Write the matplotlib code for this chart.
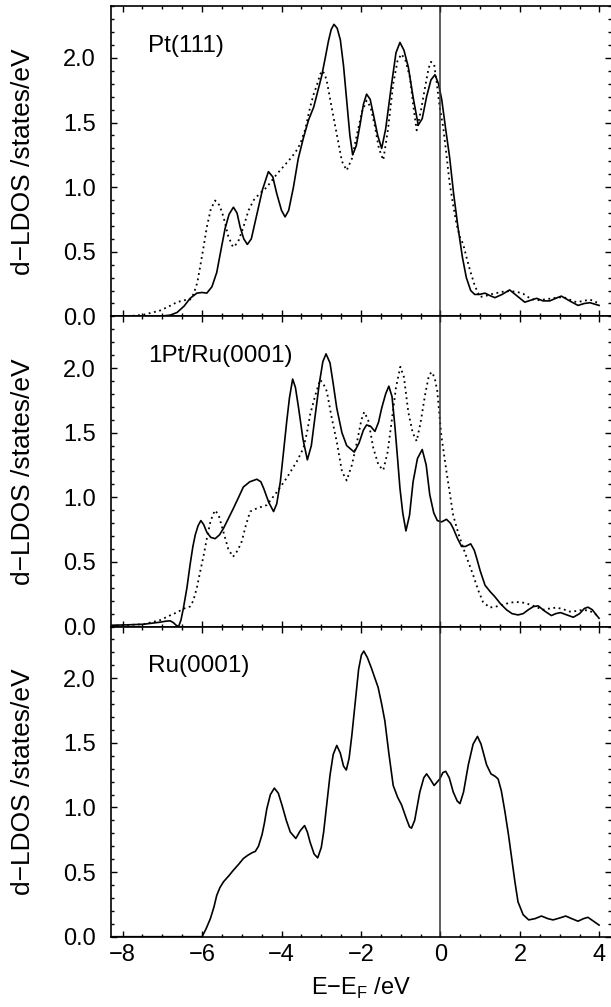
import numpy as np
import matplotlib
matplotlib.use('Agg')
import matplotlib.pyplot as plt
from matplotlib.ticker import MultipleLocator, FormatStrFormatter

plt.rcParams['font.family'] = ['Liberation Sans', 'DejaVu Sans']
plt.rcParams['mathtext.fontset'] = 'custom'
plt.rcParams['mathtext.rm'] = 'Liberation Sans'

# Pt(111): solid = d-LDOS, dotted = reference
pt_x = [-8.29, -7.5, -7.0, -6.8, -6.63, -6.45, -6.30, -6.13, -6.0, -5.88, -5.75, -5.63, -5.52,
        -5.42, -5.32, -5.21, -5.12, -5.04, -4.95, -4.86, -4.76, -4.62, -4.48, -4.33, -4.22,
        -4.12, -4.0, -3.91, -3.82, -3.70, -3.58, -3.45, -3.32, -3.19, -3.09, -2.99, -2.90,
        -2.82, -2.75, -2.68, -2.60, -2.52, -2.44, -2.36, -2.28, -2.21, -2.12, -2.02, -1.94,
        -1.86, -1.77, -1.68, -1.58, -1.48, -1.38, -1.23, -1.12, -1.02, -0.92, -0.81, -0.68,
        -0.56, -0.46, -0.35, -0.24, -0.14, -0.05, 0.03, 0.13, 0.23, 0.33, 0.44, 0.55, 0.65,
        0.76, 0.86, 0.98, 1.12, 1.25, 1.37, 1.55, 1.74, 1.92, 2.12, 2.27, 2.42, 2.58, 2.75,
        2.90, 3.04, 3.25, 3.46, 3.62, 3.76, 3.88, 3.99]
pt_y = [0.0, 0.0, 0.003, 0.01, 0.03, 0.08, 0.14, 0.18, 0.185, 0.18, 0.23, 0.34, 0.52,
        0.68, 0.79, 0.845, 0.80, 0.69, 0.60, 0.557, 0.60, 0.79, 0.98, 1.12, 1.08,
        0.95, 0.82, 0.77, 0.82, 1.0, 1.22, 1.38, 1.52, 1.62, 1.74, 1.86, 2.0,
        2.13, 2.22, 2.26, 2.23, 2.14, 1.94, 1.67, 1.40, 1.25, 1.32, 1.49, 1.64,
        1.72, 1.68, 1.55, 1.40, 1.30, 1.45, 1.80, 2.04, 2.12, 2.06, 1.93, 1.68,
        1.48, 1.53, 1.70, 1.83, 1.87, 1.80, 1.68, 1.45, 1.23, 0.95, 0.69, 0.46, 0.30,
        0.20, 0.17, 0.17, 0.18, 0.16, 0.145, 0.17, 0.205, 0.16, 0.11, 0.125, 0.14, 0.12, 0.12,
        0.14, 0.157, 0.12, 0.085, 0.10, 0.106, 0.095, 0.085]

ref_x = [-8.29, -7.8, -7.47, -7.25, -7.05, -6.85, -6.63, -6.45, -6.30, -6.21, -6.12, -6.05,
         -5.96, -5.88, -5.78, -5.67, -5.56, -5.46, -5.34, -5.22, -5.10, -4.96, -4.83, -4.70,
         -4.55, -4.37, -4.12, -3.95, -3.78, -3.65, -3.53, -3.40, -3.28, -3.19, -3.11, -3.03,
         -2.99, -2.92, -2.86, -2.74, -2.61, -2.48, -2.36, -2.23, -2.10, -1.98, -1.86, -1.76,
         -1.65, -1.55, -1.44, -1.32, -1.19, -1.08, -0.98, -0.88, -0.77, -0.68, -0.60, -0.50,
         -0.39, -0.30, -0.24, -0.16, -0.10, -0.02, 0.07, 0.15, 0.23, 0.32, 0.40, 0.48, 0.57,
         0.66, 0.74, 0.86, 0.99, 1.15, 1.32, 1.55, 1.74, 1.92, 2.08, 2.25, 2.42, 2.58, 2.75,
         2.92, 3.09, 3.25, 3.42, 3.60, 3.76, 3.88, 3.99]
ref_y = [0.0, 0.003, 0.013, 0.03, 0.046, 0.075, 0.11, 0.125, 0.13, 0.175, 0.26, 0.38,
         0.54, 0.69, 0.83, 0.897, 0.86, 0.77, 0.62, 0.536, 0.57, 0.69, 0.82, 0.90,
         0.95, 1.0, 1.10, 1.16, 1.22, 1.27, 1.335, 1.45, 1.62, 1.72, 1.79, 1.87,
         1.90, 1.88, 1.82, 1.62, 1.41, 1.20, 1.13, 1.22, 1.41, 1.58, 1.67, 1.62,
         1.47, 1.30, 1.21, 1.45, 1.80, 1.98, 2.03, 1.98, 1.85, 1.62, 1.44, 1.58,
         1.77, 1.92, 1.97, 1.95, 1.82, 1.62, 1.46, 1.25, 1.03, 0.86, 0.72, 0.62, 0.56,
         0.45, 0.36, 0.24, 0.15, 0.16, 0.175, 0.19, 0.196, 0.19, 0.175, 0.14, 0.124, 0.13, 0.137,
         0.145, 0.15, 0.13, 0.11, 0.12, 0.13, 0.115, 0.10]

# 1Pt/Ru(0001)
mono_x = [-8.29, -7.9, -7.47, -7.05, -6.90, -6.80, -6.72, -6.65, -6.59, -6.53, -6.47, -6.38,
          -6.30, -6.23, -6.17, -6.10, -6.03, -5.96, -5.88, -5.78, -5.67, -5.56, -5.46, -5.33,
          -5.21, -5.08, -4.96, -4.80, -4.62, -4.52, -4.45, -4.32, -4.20, -4.12, -4.03, -3.95,
          -3.87, -3.80, -3.72, -3.65, -3.57, -3.46, -3.35, -3.25, -3.15, -3.05, -2.96, -2.88,
          -2.78, -2.70, -2.61, -2.48, -2.36, -2.17, -2.05, -1.94, -1.86, -1.76, -1.65, -1.56,
          -1.48, -1.38, -1.30, -1.22, -1.15, -1.08, -1.02, -0.95, -0.87, -0.78, -0.69, -0.58,
          -0.46, -0.36, -0.27, -0.17, -0.08, 0.03, 0.15, 0.25, 0.32, 0.43, 0.53, 0.63, 0.76,
          0.85, 0.91, 1.00, 1.12, 1.25, 1.37, 1.50, 1.66, 1.80, 1.95, 2.08, 2.21, 2.34, 2.46,
          2.62, 2.79, 2.90, 3.02, 3.18, 3.34, 3.50, 3.62, 3.71, 3.82, 3.92, 3.99]
mono_y = [0.01, 0.013, 0.018, 0.034, 0.042, 0.044, 0.03, 0.01, 0.0, 0.05, 0.14, 0.30,
          0.48, 0.62, 0.71, 0.78, 0.82, 0.79, 0.73, 0.69, 0.68, 0.71, 0.76, 0.84,
          0.915, 1.0, 1.08, 1.12, 1.14, 1.12, 1.07, 0.96, 0.89, 0.95, 1.12, 1.35,
          1.585, 1.77, 1.915, 1.85, 1.69, 1.45, 1.29, 1.40, 1.64, 1.88, 2.05, 2.11,
          2.04, 1.88, 1.69, 1.50, 1.40, 1.35, 1.42, 1.52, 1.56, 1.55, 1.51, 1.58,
          1.69, 1.80, 1.86, 1.78, 1.56, 1.30, 1.07, 0.88, 0.74, 0.86, 1.12, 1.30,
          1.37, 1.25, 1.02, 0.88, 0.82, 0.81, 0.83, 0.80, 0.76, 0.68, 0.62, 0.62, 0.64,
          0.59, 0.53, 0.43, 0.32, 0.27, 0.23, 0.18, 0.13, 0.10, 0.09, 0.10, 0.13, 0.155, 0.16,
          0.12, 0.085, 0.10, 0.108, 0.09, 0.072, 0.10, 0.14, 0.15, 0.13, 0.09, 0.064]

mono_ref_x = [-8.29, -7.47, -7.05, -6.85, -6.63, -6.45, -6.30, -6.22, -6.13, -6.05, -5.96,
              -5.88, -5.79, -5.72, -5.67, -5.58, -5.46, -5.34, -5.22, -5.10, -5.00, -4.90,
              -4.79, -4.62, -4.37, -4.12, -3.87, -3.61, -3.45, -3.36, -3.28, -3.15, -3.03,
              -2.95, -2.86, -2.74, -2.61, -2.48, -2.36, -2.23, -2.10, -1.99, -1.92, -1.82,
              -1.69, -1.56, -1.44, -1.33, -1.23, -1.12, -1.01, -0.92, -0.81, -0.70, -0.60,
              -0.50, -0.39, -0.30, -0.23, -0.15, -0.08, 0.02, 0.15, 0.32, 0.45, 0.57, 0.70,
              0.82, 0.95, 1.07, 1.24, 1.40, 1.58, 1.75, 1.91, 2.08, 2.25, 2.42, 2.58, 2.75,
              2.92, 3.08, 3.25, 3.42, 3.59, 3.76, 3.88, 3.99]
mono_ref_y = [0.005, 0.018, 0.05, 0.08, 0.11, 0.14, 0.155, 0.20, 0.30, 0.42, 0.55,
              0.68, 0.81, 0.87, 0.90, 0.86, 0.73, 0.60, 0.54, 0.59, 0.66, 0.78,
              0.89, 0.915, 0.94, 1.04, 1.15, 1.28, 1.38, 1.50, 1.64, 1.79, 1.91,
              1.88, 1.82, 1.62, 1.43, 1.20, 1.13, 1.25, 1.43, 1.60, 1.66, 1.60,
              1.38, 1.25, 1.21, 1.35, 1.585, 1.85, 2.01, 1.93, 1.66, 1.50, 1.435,
              1.58, 1.79, 1.93, 1.97, 1.93, 1.82, 1.48, 1.20, 0.86, 0.72, 0.61, 0.50,
              0.40, 0.28, 0.19, 0.147, 0.155, 0.17, 0.185, 0.19, 0.185, 0.17, 0.15, 0.13, 0.14,
              0.147, 0.135, 0.116, 0.12, 0.13, 0.12, 0.10, 0.077]

# Ru(0001)
ru_x = [-8.29, -6.2, -6.0, -5.90, -5.79, -5.70, -5.63, -5.55, -5.46, -5.33, -5.21, -5.08,
        -4.96, -4.85, -4.74, -4.66, -4.58, -4.49, -4.43, -4.37, -4.28, -4.18, -4.08, -3.99,
        -3.88, -3.78, -3.64, -3.53, -3.42, -3.35, -3.28, -3.18, -3.09, -3.00, -2.94, -2.86,
        -2.78, -2.70, -2.61, -2.52, -2.44, -2.37, -2.30, -2.23, -2.15, -2.06, -1.99, -1.93,
        -1.84, -1.74, -1.65, -1.57, -1.48, -1.40, -1.30, -1.19, -1.08, -0.98, -0.86, -0.78,
        -0.73, -0.65, -0.52, -0.42, -0.35, -0.26, -0.16, -0.02, 0.06, 0.13, 0.22, 0.32, 0.42,
        0.49, 0.58, 0.70, 0.82, 0.93, 1.02, 1.16, 1.27, 1.38, 1.45, 1.53, 1.62, 1.71, 1.79,
        1.87, 1.95, 2.08, 2.22, 2.38, 2.54, 2.70, 2.83, 3.00, 3.15, 3.30, 3.46, 3.60, 3.71,
        3.85, 3.99]
ru_y = [0.0, 0.0, 0.0, 0.06, 0.14, 0.23, 0.32, 0.38, 0.425, 0.47, 0.515, 0.56,
        0.605, 0.63, 0.65, 0.66, 0.70, 0.79, 0.88, 0.99, 1.10, 1.15, 1.11, 1.02,
        0.90, 0.81, 0.76, 0.82, 0.86, 0.81, 0.73, 0.64, 0.61, 0.69, 0.81, 1.03,
        1.25, 1.41, 1.48, 1.42, 1.32, 1.29, 1.38, 1.56, 1.80, 2.07, 2.18, 2.21,
        2.16, 2.08, 2.00, 1.93, 1.80, 1.67, 1.42, 1.17, 1.08, 1.02, 0.915, 0.85,
        0.84, 0.90, 1.12, 1.23, 1.26, 1.22, 1.17, 1.22, 1.27, 1.28, 1.23, 1.12, 1.05,
        1.03, 1.12, 1.33, 1.49, 1.55, 1.49, 1.33, 1.26, 1.24, 1.22, 1.13, 0.97, 0.79, 0.61,
        0.43, 0.27, 0.17, 0.13, 0.14, 0.16, 0.14, 0.13, 0.145, 0.16, 0.14, 0.12, 0.14, 0.15,
        0.12, 0.09]

panel_names = ['Pt(111)', '1Pt/Ru(0001)', 'Ru(0001)']
solid_curves = [(pt_x, pt_y), (mono_x, mono_y), (ru_x, ru_y)]
dotted_curves = [(ref_x, ref_y), (mono_ref_x, mono_ref_y), None]

fig = plt.figure(figsize=(6.11, 10.07), dpi=100)
left, width, height = 0.1817, 0.8183, 0.308
bottoms = [0.6858, 0.3778, 0.0698]

for i in range(3):
    ax = fig.add_axes([left, bottoms[i], width, height])
    sx, sy = solid_curves[i]
    ax.plot(sx, sy, color='black', lw=1.2)
    if dotted_curves[i] is not None:
        dx, dy = dotted_curves[i]
        ax.plot(dx, dy, color='black', lw=1.3, linestyle=(0, (1, 2)))
    ax.axvline(0, color='0.2', lw=1.1)

    ax.set_xlim(-8.29, 4.29)
    ax.set_ylim(0, 2.4)
    ax.xaxis.set_major_locator(MultipleLocator(2))
    ax.xaxis.set_minor_locator(MultipleLocator(0.5))
    ax.yaxis.set_major_locator(MultipleLocator(0.5))
    ax.yaxis.set_minor_locator(MultipleLocator(0.1))
    ax.yaxis.set_major_formatter(FormatStrFormatter('%.1f'))
    ax.tick_params(which='both', direction='in', top=True, right=True, width=1.0,
                   labelsize=17)
    ax.tick_params(which='major', length=4)
    ax.tick_params(which='minor', length=2)
    ax.tick_params(axis='x', which='major', pad=5)
    ax.tick_params(axis='y', which='major', pad=11)
    ax.spines['right'].set_visible(False)
    for s in ['left', 'top', 'bottom']:
        ax.spines[s].set_linewidth(1.2)
    if i < 2:
        ax.tick_params(labelbottom=False)

    ax.set_ylabel('d\u2212LDOS /states/eV', fontsize=19)
    ax.yaxis.set_label_coords(-0.152, 0.5)
    ax.text(0.074, 0.872, panel_names[i], transform=ax.transAxes, fontsize=17.5,
            ha='left', va='center')

fig.text(0.591, 1 - 988 / 1007, 'E\u2212E$_\\mathrm{F}$ /eV', fontsize=17,
         ha='center', va='center')

fig.savefig('out.png', dpi=100)
